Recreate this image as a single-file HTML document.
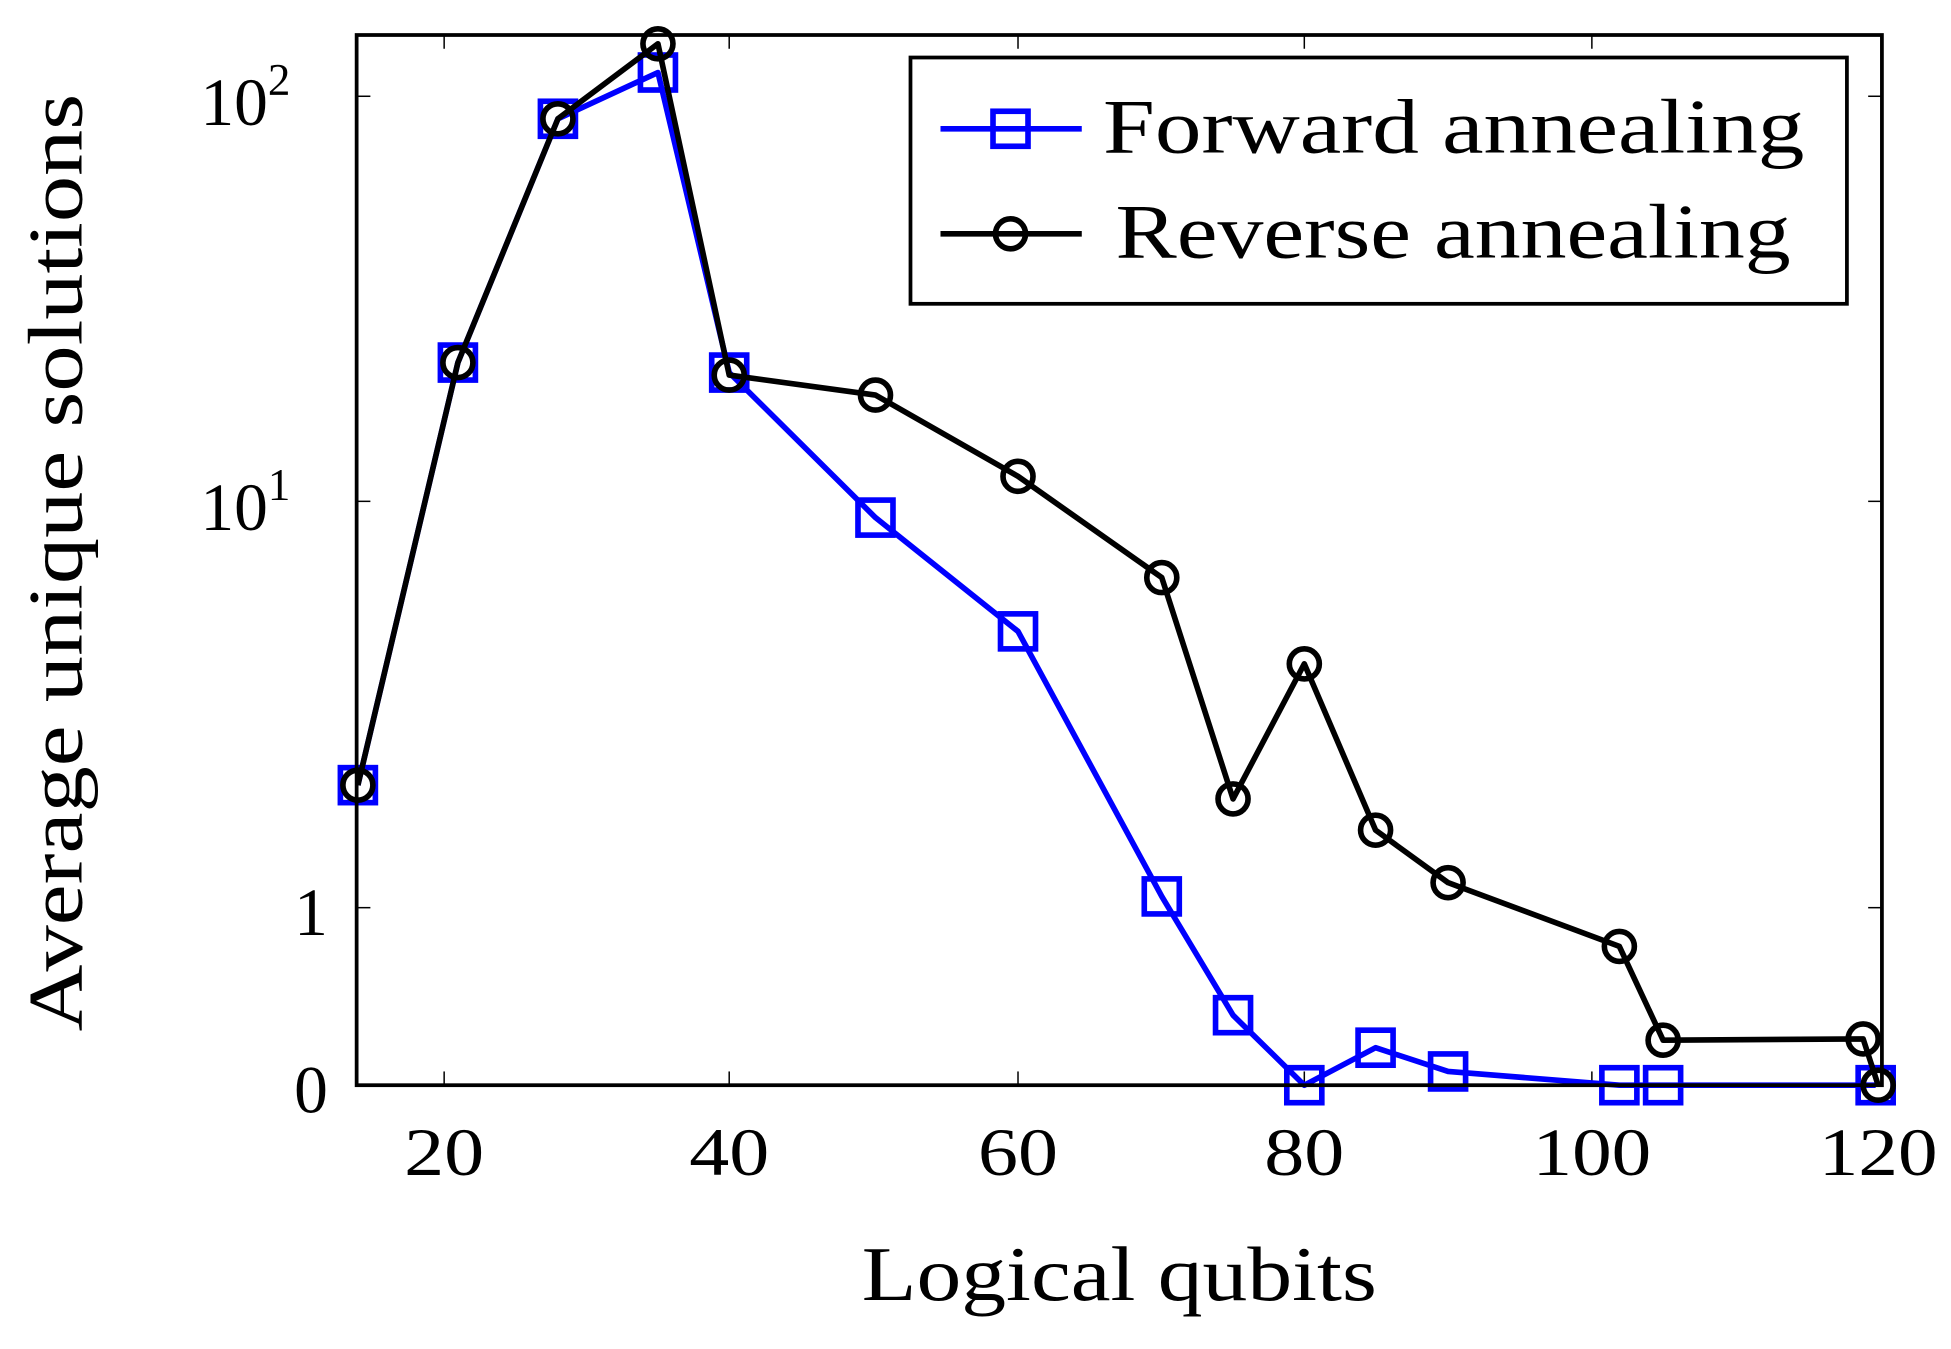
<!DOCTYPE html>
<html><head><style>html,body{margin:0;padding:0;background:#fff}svg{display:block}</style></head><body>
<svg width="1951" height="1349" viewBox="0 0 1560 1079" xmlns="http://www.w3.org/2000/svg" font-family="'Liberation Serif',serif">
<rect x="0" y="0" width="1560" height="1079" fill="#fff"/>
<g stroke="#000" stroke-width="1.2">
<line x1="355" y1="868" x2="355" y2="857"/><line x1="583" y1="868" x2="583" y2="857"/><line x1="814" y1="868" x2="814" y2="857"/><line x1="1043" y1="868" x2="1043" y2="857"/><line x1="1273" y1="868" x2="1273" y2="857"/>
<line x1="355" y1="28" x2="355" y2="39"/><line x1="583" y1="28" x2="583" y2="39"/><line x1="814" y1="28" x2="814" y2="39"/><line x1="1043" y1="28" x2="1043" y2="39"/><line x1="1273" y1="28" x2="1273" y2="39"/>
<line x1="285" y1="77" x2="296" y2="77"/><line x1="285" y1="401" x2="296" y2="401"/><line x1="285" y1="726" x2="296" y2="726"/>
<line x1="1505" y1="77" x2="1494" y2="77"/><line x1="1505" y1="401" x2="1494" y2="401"/><line x1="1505" y1="726" x2="1494" y2="726"/>
</g>
<polyline fill="none" stroke="#0000ff" stroke-width="4.5" stroke-linejoin="round" points="286,628 366,290 446,95 526,58 583,298 700,414 814,505 929,717 986,812 1043,868 1100,838 1158,857 1295,868 1330,868 1500,868"/>
<g fill="none" stroke="#0000ff" stroke-width="4.5">
<rect x="272" y="614" width="28" height="28"/><rect x="352" y="276" width="28" height="28"/><rect x="432" y="81" width="28" height="28"/><rect x="512" y="44" width="28" height="28"/><rect x="569" y="284" width="28" height="28"/><rect x="686" y="400" width="28" height="28"/><rect x="800" y="491" width="28" height="28"/><rect x="915" y="703" width="28" height="28"/><rect x="972" y="798" width="28" height="28"/><rect x="1029" y="854" width="28" height="28"/><rect x="1086" y="824" width="28" height="28"/><rect x="1144" y="843" width="28" height="28"/><rect x="1281" y="854" width="28" height="28"/><rect x="1316" y="854" width="28" height="28"/><rect x="1486" y="854" width="28" height="28"/>
</g>
<polyline fill="none" stroke="#000" stroke-width="4.5" stroke-linejoin="round" points="286,628 366,290 446,95 526,35 583,300 700,316 814,381 929,462 986,639 1043,531 1100,664 1158,706 1295,757 1330,832 1490,831 1502,868"/>
<g fill="none" stroke="#000" stroke-width="4.5">
<circle cx="286" cy="628" r="12"/><circle cx="366" cy="290" r="12"/><circle cx="446" cy="95" r="12"/><circle cx="526" cy="35" r="12"/><circle cx="583" cy="300" r="12"/><circle cx="700" cy="316" r="12"/><circle cx="814" cy="381" r="12"/><circle cx="929" cy="462" r="12"/><circle cx="986" cy="639" r="12"/><circle cx="1043" cy="531" r="12"/><circle cx="1100" cy="664" r="12"/><circle cx="1158" cy="706" r="12"/><circle cx="1295" cy="757" r="12"/><circle cx="1330" cy="832" r="12"/><circle cx="1490" cy="831" r="12"/><circle cx="1502" cy="868" r="12"/>
</g>
<rect x="285" y="28" width="1220" height="840" fill="none" stroke="#000" stroke-width="3"/>
<rect x="728" y="46" width="749" height="197" fill="#fff" stroke="#000" stroke-width="3"/>
<line x1="752" y1="103" x2="865" y2="103" stroke="#0000ff" stroke-width="4.5"/>
<rect x="794" y="89" width="28" height="28" fill="none" stroke="#0000ff" stroke-width="4.5"/>
<line x1="752" y1="187" x2="865" y2="187" stroke="#000" stroke-width="4.5"/>
<circle cx="808" cy="187" r="12" fill="none" stroke="#000" stroke-width="4.5"/>
<g font-size="62" fill="#000">
<text x="882" y="122" textLength="561" lengthAdjust="spacingAndGlyphs">Forward annealing</text>
<text x="892" y="206" textLength="540" lengthAdjust="spacingAndGlyphs">Reverse annealing</text>
</g>
<g font-size="54" fill="#000" text-anchor="middle">
<text x="355" y="940" textLength="64" lengthAdjust="spacingAndGlyphs">20</text><text x="583" y="940" textLength="64" lengthAdjust="spacingAndGlyphs">40</text><text x="814" y="940" textLength="64" lengthAdjust="spacingAndGlyphs">60</text><text x="1043" y="940" textLength="64" lengthAdjust="spacingAndGlyphs">80</text><text x="1273" y="940" textLength="95" lengthAdjust="spacingAndGlyphs">100</text><text x="1502" y="940" textLength="95" lengthAdjust="spacingAndGlyphs">120</text>
</g>
<g font-size="54" fill="#000" text-anchor="end">
<text x="232" y="100">10<tspan font-size="36" dy="-24">2</tspan></text>
<text x="232" y="424">10<tspan font-size="36" dy="-24">1</tspan></text>
<text x="262" y="748">1</text>
<text x="262" y="890">0</text>
</g>
<text x="895" y="1040" font-size="62" text-anchor="middle" textLength="412" lengthAdjust="spacingAndGlyphs">Logical qubits</text>
<text transform="translate(65,450) rotate(-90)" font-size="62" text-anchor="middle" textLength="750" lengthAdjust="spacingAndGlyphs">Average unique solutions</text>
</svg>
</body></html>
